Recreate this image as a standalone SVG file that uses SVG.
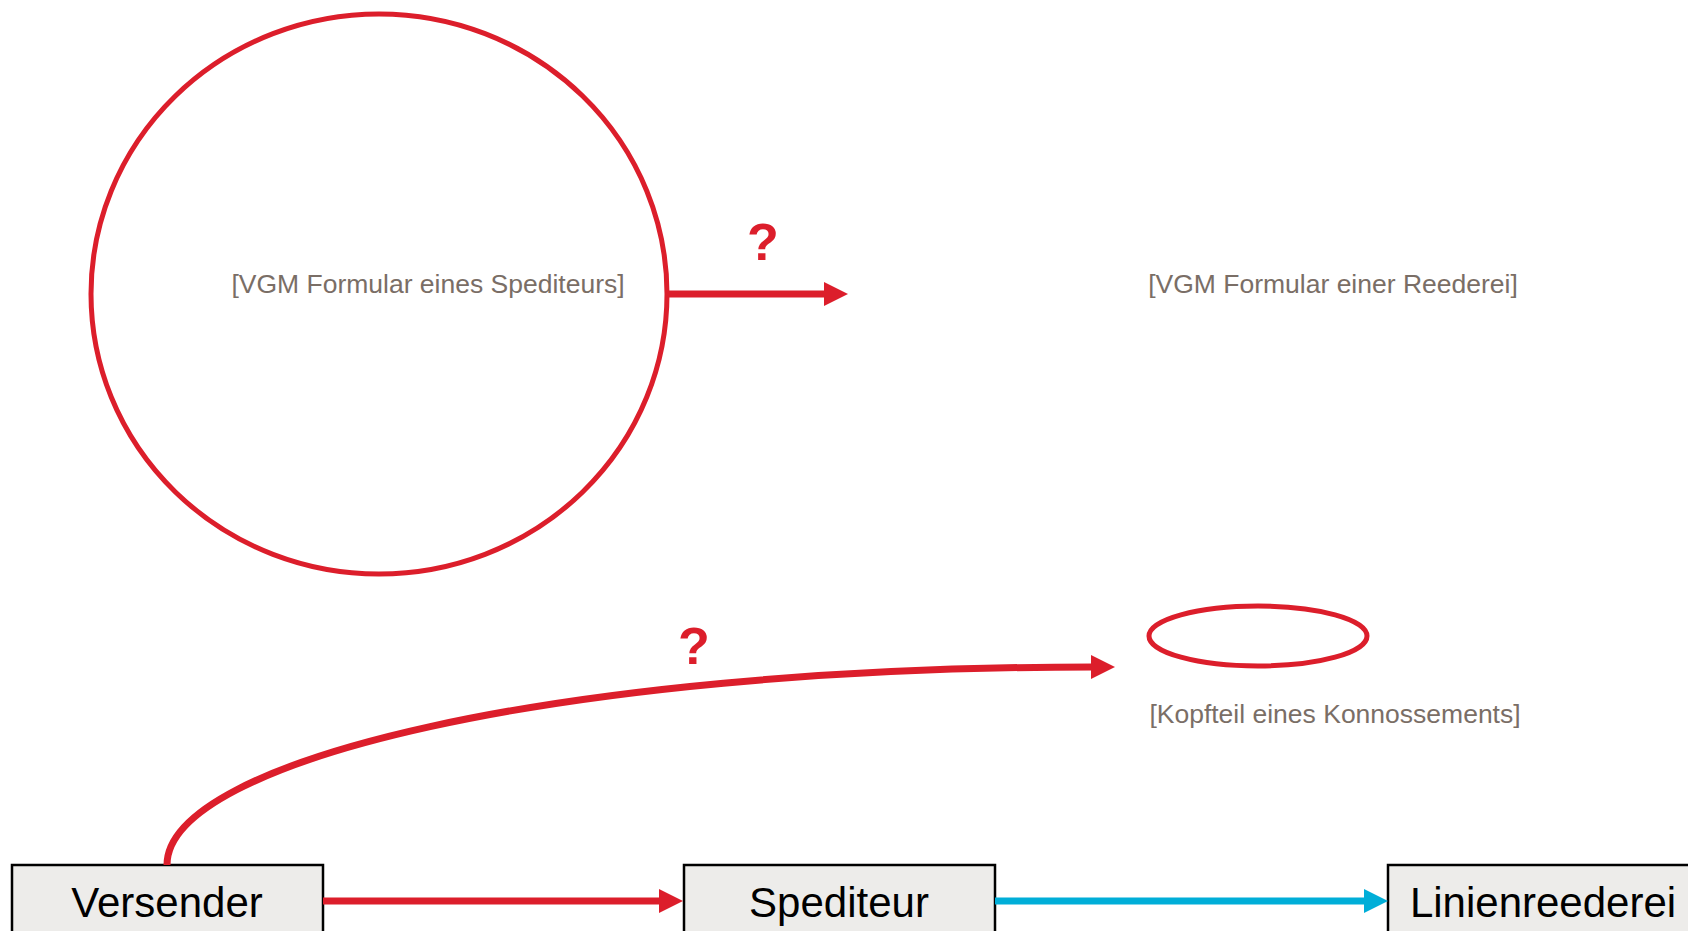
<svg xmlns="http://www.w3.org/2000/svg" width="1688" height="931" viewBox="0 0 1688 931">
<style>
.box{fill:#edecea;stroke:#000;stroke-width:2.5}
.lbl{font-family:"Liberation Sans",Arial,sans-serif;font-size:42px;fill:#000;text-anchor:middle}
.note{font-family:"Liberation Sans",Arial,sans-serif;font-size:26.5px;fill:#7a6e66;text-anchor:middle}
.q{font-family:"Liberation Sans",Arial,sans-serif;font-size:52px;font-weight:bold;fill:#dc1e2b;text-anchor:middle}
.red{fill:none;stroke:#dc1e2b;stroke-width:7}
.blue{fill:none;stroke:#00aed8;stroke-width:7}
.ring{fill:none;stroke:#dc1e2b;stroke-width:5}
</style>
<defs>
<marker id="ahr" viewBox="0 0 24 24" refX="2" refY="12" markerWidth="24" markerHeight="24" markerUnits="userSpaceOnUse" orient="auto"><path d="M0,0 L24,12 L0,24 z" fill="#dc1e2b"/></marker>
<marker id="ahb" viewBox="0 0 24 24" refX="2" refY="12" markerWidth="24" markerHeight="24" markerUnits="userSpaceOnUse" orient="auto"><path d="M0,0 L24,12 L0,24 z" fill="#00aed8"/></marker>
</defs>
<rect width="1688" height="931" fill="#fff"/>
<g id="vgm-spediteur">
<ellipse class="ring" cx="379" cy="294" rx="288" ry="280"/>
<text class="note" x="428" y="293">[VGM Formular eines Spediteurs]</text>
</g>
<g id="vgm-reederei">
<text class="note" x="1333" y="293">[VGM Formular einer Reederei]</text>
</g>
<g id="kopfteil">
<ellipse class="ring" cx="1258" cy="636" rx="109" ry="30"/>
<text class="note" x="1335" y="723">[Kopfteil eines Konnossements]</text>
</g>
<g id="versender">
<rect class="box" x="12" y="865" width="311" height="80"/>
<text class="lbl" x="167" y="917">Versender</text>
</g>
<g id="spediteur">
<rect class="box" x="684" y="865" width="311" height="80"/>
<text class="lbl" x="839" y="917">Spediteur</text>
</g>
<g id="linienreederei">
<rect class="box" x="1388" y="865" width="320" height="80"/>
<text class="lbl" x="1543" y="917">Linienreederei</text>
</g>
<g id="connectors">
<line class="red" x1="667" y1="294" x2="826" y2="294" marker-end="url(#ahr)"/>
<text class="q" x="763" y="260">?</text>
<path class="red" d="M167,865 C167,760 560,667 1093,667" marker-end="url(#ahr)"/>
<text class="q" x="694" y="664">?</text>
<line class="red" x1="323" y1="901" x2="661" y2="901" marker-end="url(#ahr)"/>
<line class="blue" x1="995" y1="901" x2="1366" y2="901" marker-end="url(#ahb)"/>
</g>
</svg>
